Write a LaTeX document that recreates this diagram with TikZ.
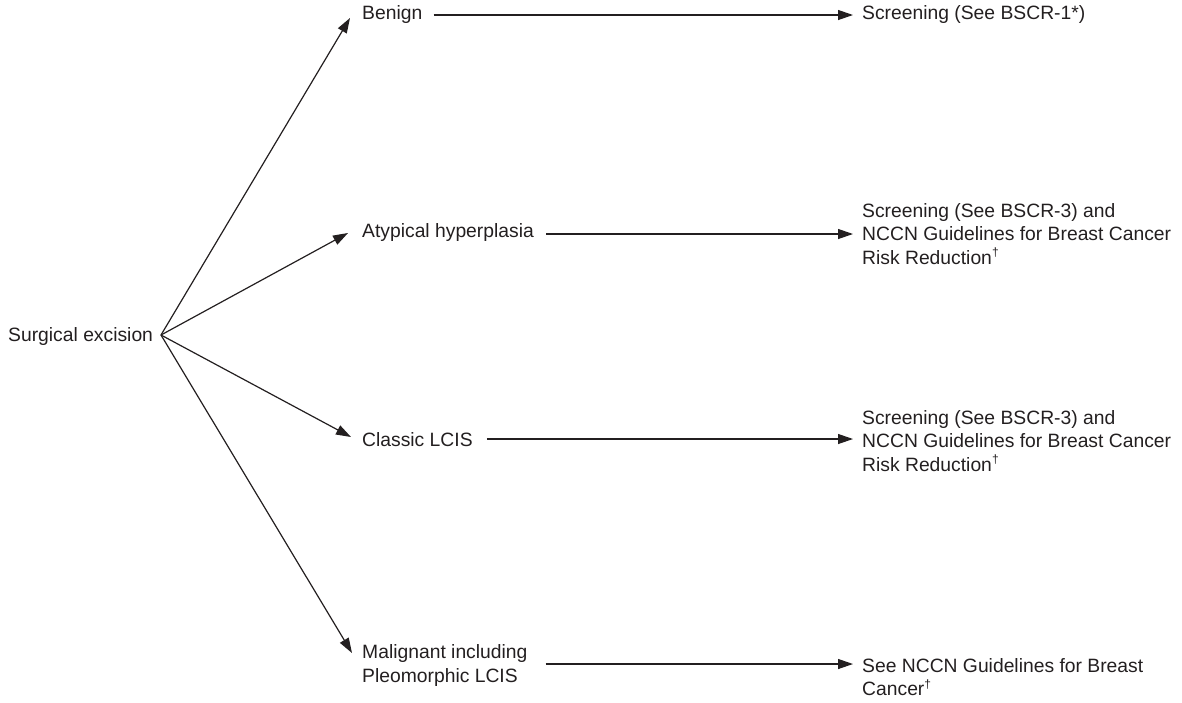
\documentclass[tikz,border=0pt]{standalone}
\usepackage{fontspec}
\setmainfont{Liberation Sans}
\usetikzlibrary{arrows.meta}
\definecolor{ink}{HTML}{231F20}
\tikzset{
  lbl/.style={anchor=west, inner sep=0pt, text=ink, align=left,
    font=\fontsize{19.3}{23.5}\selectfont},
  arr/.style={draw=ink, line width=1.2pt,
    -{Triangle[length=15pt,width=10pt]}}
}
\newcommand{\dg}{\textsuperscript{\fontsize{12}{12}\selectfont †}}
\begin{document}
\begin{tikzpicture}[x=1pt,y=-1pt]
\useasboundingbox (0,0) rectangle (1182,702);

% root and fan point
\node[lbl] (surg) at (8,337) {Surgical excision};
\coordinate (apex) at (161,335);

% outcomes of excision
\node[lbl] (benign)  at (362,15)    {Benign};
\node[lbl] (atyp)    at (362,233)   {Atypical hyperplasia};
\node[lbl] (classic) at (362,440)   {Classic LCIS};
\node[lbl] (malig)   at (362,665.5) {Malignant including\\Pleomorphic LCIS};

% follow-up actions
\node[lbl] (scr1) at (862,15)  {Screening (See BSCR-1*)};
\node[lbl] (scr2) at (862,234) {Screening (See BSCR-3) and\\NCCN Guidelines for Breast Cancer\\Risk Reduction\dg};
\node[lbl] (scr3) at (862,441) {Screening (See BSCR-3) and\\NCCN Guidelines for Breast Cancer\\Risk Reduction\dg};
\node[lbl] (scr4) at (862,677) {See NCCN Guidelines for Breast\\Cancer\dg};

% fan of arrows from the excision
\draw[arr] (apex) -- ([xshift=-12pt,yshift=-3pt]benign.west);
\draw[arr] (apex) -- ([xshift=-14pt]atyp.west);
\draw[arr] (apex) -- ([xshift=-11pt,yshift=3pt]classic.west);
\draw[arr] (apex) -- ([xshift=-10pt,yshift=12.5pt]malig.west);

% horizontal arrows to the actions
\draw[arr] ([xshift=11pt]benign.east) -- ([xshift=-9pt]scr1.west);
\draw[arr] ([xshift=12pt,yshift=-1pt]atyp.east) -- ([xshift=-9pt]scr2.west);
\draw[arr] ([xshift=14pt,yshift=1pt]classic.east) -- ([xshift=-9pt,yshift=2pt]scr3.west);
\draw[arr] ([xshift=18pt,yshift=1.5pt]malig.east) -- ([xshift=-9pt,yshift=13pt]scr4.west);
\end{tikzpicture}
\end{document}
